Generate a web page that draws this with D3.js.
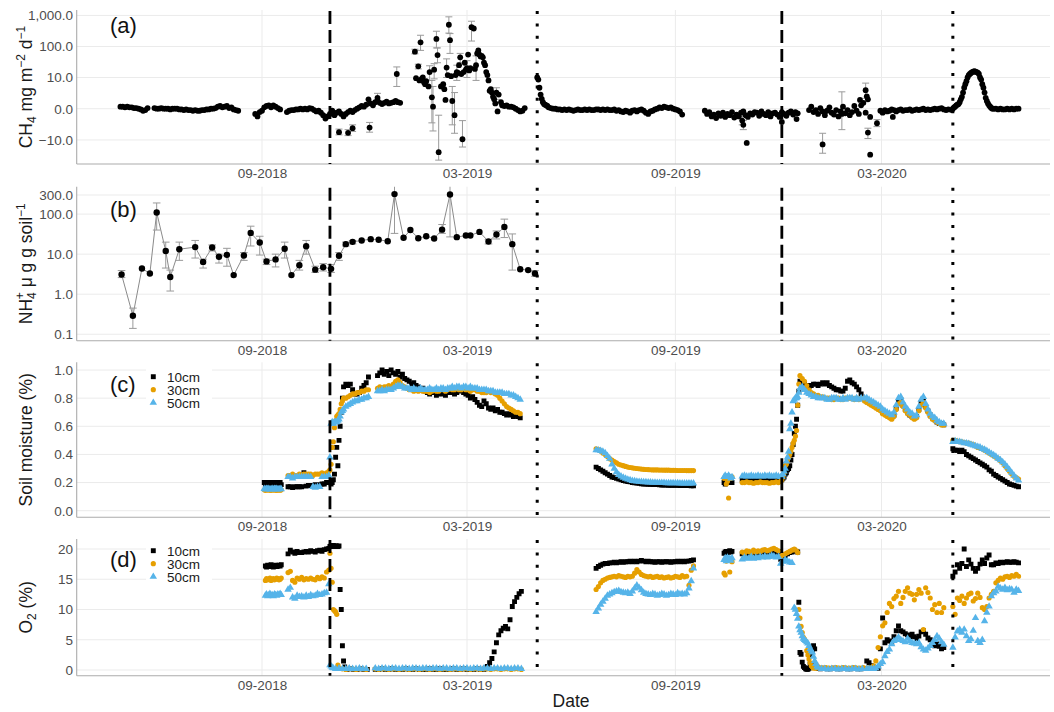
<!DOCTYPE html>
<html><head><meta charset="utf-8">
<script src="https://cdn.jsdelivr.net/npm/d3@7"></script>
<style>body{margin:0;background:#fff;}svg{display:block;}</style>
</head><body><svg id="chart" width="1054" height="712"></svg>
<script>
// ---------------- DATA ----------------
const xTickDates = ["2018-09-01","2019-03-01","2019-09-01","2020-03-01"];
const dashedDates = ["2018-10-31","2019-12-04"];
const dottedDates = ["2019-05-02","2020-05-03"];
const ch4Ticks = [-10,0,10,100,1000];
const nh4Ticks = [0.1,1,10,100,300];
const moistTicks = [0,0.2,0.4,0.6,0.8,1.0];
const o2Ticks = [0,5,10,15,20];
const depthLabels = ["10cm","30cm","50cm"];

// CH4 runs: [start, step(days), values]
const ch4Segments = [
 ["2018-04-29",2,[0.3,0.3,0.2,0.3,0.2,0.2,0.1,0.1,0,-0.1,-0.3,-0.2,0.1]],
 ["2018-05-29",2,[0.1,0,0,0.1,0,0,0,-0.1,0,0,0,-0.1,-0.1,-0.2,-0.1,-0.2,-0.2,-0.3,-0.2,-0.3,-0.3,-0.2,-0.2,-0.1,-0.1,0,0,0.1,0.3,0.4,0.2,0.3,0.4,0.1,0.2,-0.1,-0.2,-0.3]],
 ["2018-08-26",2,[-0.8,-1.2,-0.5,-0.3,0.2,0.4,0.5,0.2,0.5,0.3,0.1,-0.1]],
 ["2018-09-23",2,[-0.5,-0.3,-0.2,-0.2,-0.1,-0.1,0,-0.1,0,-0.1,0.1,0,-0.2,-0.4,-0.3,-0.6,-1.0,-1.6,-1.2,-0.8]],
 ["2018-11-02",2,[-0.3,-1.0,-0.6,-0.4,-0.8,-1.2,-0.8,-0.5,-0.3,-0.5,-0.2,0,0.2,0.4,0.3,0.6,1.5,0.8,0.5,1.0,1.3,0.9,0.7,0.9,1.1,0.8,0.9,1.0,1.2,1.0,0.9]],
 ["2019-04-01",2,[0.5,0.4,0.5,0.3,0.3,0.2,0,-0.2,-0.4,-0.3,0.1]],
 ["2019-05-02",1,[10,8.5,4.5,2.5,1.6,1.0,0.7,0.6,0.5,0.4]],
 ["2019-05-12",2,[0.2,0.1,0,0,-0.1,-0.1,-0.2,-0.1,-0.2,-0.1,-0.2,-0.3,-0.2,-0.1,-0.2,-0.2,-0.1,-0.2,-0.1,-0.2,-0.2,-0.1,-0.1,-0.2,-0.1,-0.2,-0.1,-0.2,-0.2,-0.1,-0.3,-0.2,-0.4,-0.5,-0.3,-0.4,-0.6,-0.3,-0.2,-0.4,-0.2,-0.1,-0.3,-0.6,-0.8,-0.4,-0.3,-0.1,0,0.2,0.1,0.3,0.2,0.1,0.2,0,-0.1,-0.2,-0.4,-0.9]],
 ["2019-09-27",2,[-0.3,-0.8,-0.5,-1.2,-0.9,-1.5,-0.7,-1.1,-0.6,-1.3,-0.8,-1.0,-0.5,-1.4,-0.9,-1.2,-0.6,-0.4,-1.0,-1.3,-0.7,-0.9,-0.5,-0.6,-1.1,-0.4,-0.8,-1.0,-0.5,-1.2,-0.7,-0.6,-0.9,-1.3,-0.5,-0.8,-1.1,-0.6,-0.4,-0.9,-0.5,-0.7]],
 ["2019-12-28",2,[-0.2,0.3,-0.5,-0.2,-0.8,0.1,-0.4,-1.0,-0.3,0.2,-0.6,-0.9,-0.2,-1.2,-0.4,0.3,-0.7,-0.2,-1.0,-0.5,0.4,-0.3,-0.8,0.5,0.9,-0.6,1.5,-1.3]],
 ["2020-02-29",2,[-0.3,-0.6,-0.2,-0.4,-0.3,-0.1,-0.2,-0.4,-0.2,-0.1,-0.3,-0.2,-0.2,-0.1,-0.3,-0.2,-0.1,-0.2,-0.1,0,-0.2,-0.1,-0.2,-0.1,0,-0.1,0,0.1,-0.1,-0.2,-0.1]],
 ["2020-05-02",1,[-0.2,0,0.2,0.3,0.5,0.6,0.7,1.0,1.5,2,3,4.5,6,7.5,10,12,13,14,15,15.5,16,15.5,15,14.5,13,10,8.5,6,4.5,3,1.8,1.2,0.8,0.5,0.3,0.1,0,0]],
 ["2020-06-10",2,[0,-0.1,0,-0.1,-0.1,0,-0.1,0,-0.1,0,0]]
];
// CH4 single points: [date, value, low, high]
const ch4Points = [
 ["2018-11-08",-5.5,-6.8,-4.3],["2018-11-16",-5.8,-7.2,-4.5],["2018-11-20",-4.0,-5.2,-3.0],
 ["2018-12-05",-3.8,-5.5,-2.4],["2018-12-12",1.8,1.0,2.8],["2018-12-29",13,5,22],
 ["2019-01-14",68,58,82],["2019-01-15",9.5],["2019-01-17",23,19,27],["2019-01-18",8],
 ["2019-01-19",136,75,230],["2019-01-20",9],["2019-01-21",10],["2019-01-22",7],["2019-01-23",6],
 ["2019-01-24",7.5],["2019-01-26",5],["2019-01-27",15,8,24],["2019-01-29",1.9,-2.5,8],
 ["2019-01-30",0.3,-5,5],["2019-01-31",18,9,28],["2019-02-02",175,90,310],["2019-02-03",53,30,90],
 ["2019-02-04",-25,-45,-1],["2019-02-06",5],["2019-02-08",6],["2019-02-09",4],["2019-02-10",1.4],
 ["2019-02-11",21,10,40],["2019-02-12",12],["2019-02-13",500,270,900],["2019-02-14",160,60,260],
 ["2019-02-15",11],["2019-02-16",1.2,-3,5],["2019-02-18",-1,-6,3],["2019-02-19",12],
 ["2019-02-20",15,8,25],["2019-02-21",14],["2019-02-22",25],["2019-02-23",45,30,60],["2019-02-24",13],
 ["2019-02-25",-9.5,-17,-2],["2019-02-26",15],["2019-02-27",30],["2019-02-28",18],["2019-03-01",20,10,35],
 ["2019-03-02",55],["2019-03-03",17],["2019-03-04",20],["2019-03-05",420,150,650],["2019-03-07",380],
 ["2019-03-08",19],["2019-03-09",25,8,50],["2019-03-10",60],["2019-03-11",75],["2019-03-12",55],
 ["2019-03-13",48],["2019-03-14",50],["2019-03-15",45],["2019-03-16",30],["2019-03-17",25],
 ["2019-03-18",15],["2019-03-19",12],["2019-03-20",8],["2019-03-21",3.5],["2019-03-22",4],
 ["2019-03-23",3],["2019-03-24",2],["2019-03-25",1.5],["2019-03-26",0.8],["2019-03-27",3,1.5,4.5],
 ["2019-03-28",-0.4],["2019-03-29",2.5],["2019-03-31",1],
 ["2019-10-30",-2.0,-3,-1.2],["2019-10-31",-3,-4.5,-2],["2019-11-03",-12.5],["2019-12-04",-2.3],
 ["2019-12-17",-1.7],["2020-01-09",-14,-27,-6],["2020-01-26",-0.8,-4.5,3.2],["2020-02-11",1.4],
 ["2020-02-16",3.7,1.7,6.5],["2020-02-17",2.1],["2020-02-18",-5.7,-9,-4],["2020-02-20",-30],
 ["2020-02-26",-2.6,-3.5,-1.8],["2020-03-11",-1.3]
];
// NH4+: [date, value, low, high]
const nh4 = [
 ["2018-04-30",3.1,2.6,3.9],["2018-05-10",0.29,0.14,0.45],["2018-05-18",4.4,null,null],["2018-05-25",3.3,null,null],
 ["2018-05-31",110,40,190],["2018-06-08",12,4.5,20],["2018-06-12",2.7,1.2,4],["2018-06-20",13.3,7,20],
 ["2018-07-04",15,8,22],["2018-07-11",6.4,4.5,7.5],["2018-07-19",14.7,12,17],["2018-07-25",8.6,6,10],
 ["2018-08-01",9.6,5,14],["2018-08-07",3.0,null,null],["2018-08-16",9.3,7,11],["2018-08-22",34,16,50],
 ["2018-08-30",19.5,9.5,28],["2018-09-05",6.6,5.5,7.5],["2018-09-13",7.4,4.8,10],["2018-09-21",13.6,8,20],
 ["2018-09-27",3.0,null,null],["2018-10-04",5.3,4,7],["2018-10-10",15.8,10,22],["2018-10-18",4.1,3.5,5],
 ["2018-10-25",4.7,3.8,5.8],["2018-11-01",4.3,3.5,5.5],["2018-11-08",9.1,7,11],["2018-11-14",17.8,16,20],
 ["2018-11-20",20.3,18,22],["2018-11-28",22,null,null],["2018-12-06",23.7,null,null],["2018-12-13",23,null,null],
 ["2018-12-21",21,null,null],["2018-12-27",316,33,600],["2019-01-04",25.6,null,null],["2019-01-10",40,null,null],
 ["2019-01-17",25,null,null],["2019-01-24",28,null,null],["2019-01-31",24.6,null,null],["2019-02-07",41,33,55],
 ["2019-02-14",310,27,600],["2019-02-20",26.6,null,null],["2019-02-28",29.3,null,null],["2019-03-04",29.3,null,null],
 ["2019-03-12",36,null,null],["2019-03-20",20.7,18,23],["2019-03-27",31,24,38],["2019-04-03",48,26,75],
 ["2019-04-10",17.8,4,32],["2019-04-17",4.2,null,null],["2019-04-24",4.0,null,null],["2019-04-30",3.3,2.8,3.9]
];
// Soil moisture runs: [start, step, values]
const moist10 = [
 ["2018-09-03",1,[0.2,0.185,0.2,0.183,0.2,0.185,0.2,0.183,0.2,0.185,0.2,0.183,0.2,0.185,0.2,0.185]],
 ["2018-09-24",2,[0.17,0.17,0.165,0.17,0.17,0.17,0.17,0.27,0.175,0.18,0.18,0.18,0.185,0.18,0.185,0.19,0.19,0.2,0.2]],
 ["2018-11-01",1,[0.19,0.2,0.22,0.26,0.38,0.45,0.32,0.5,0.6,0.7,0.8,0.88]],
 ["2018-11-14",2,[0.9,0.89,0.9,0.86,0.83,0.83,0.84,0.87,0.89,0.91,0.95]],
 ["2018-12-12",2,[0.96,0.98,1.0,0.97,0.99,0.96,1.0,0.98,0.97,0.99,0.95,0.97,0.94,0.93,0.92,0.9,0.91,0.89,0.88,0.86,0.87,0.85,0.84,0.83,0.85,0.84,0.82,0.83,0.84,0.83,0.82,0.84,0.85,0.84,0.83,0.84,0.85,0.86,0.84,0.83,0.82,0.8,0.81,0.79,0.77,0.75,0.74,0.78,0.76,0.73,0.72,0.73,0.71,0.72,0.7,0.7,0.69,0.68,0.69,0.68,0.67,0.68,0.67,0.66]],
 ["2019-06-23",2,[0.31,0.3,0.29,0.28,0.27,0.26,0.25,0.24,0.235,0.23,0.225,0.22,0.215,0.21,0.207,0.205,0.2,0.198,0.196,0.194,0.192,0.19,0.19,0.188,0.187,0.186,0.185,0.185,0.184,0.183,0.182,0.182,0.181,0.181,0.18,0.18,0.18,0.179,0.179,0.178,0.178,0.178,0.177,0.177]],
 ["2019-10-14",1,[0.2,0.19,0.21,0.2,0.22,0.2,0.21,0.2]],
 ["2019-10-30",2,[0.22,0.22,0.215,0.22,0.225,0.22,0.22,0.215,0.22,0.22,0.225,0.22,0.22,0.215,0.22,0.22,0.22,0.225]],
 ["2019-12-04",1,[0.22,0.23,0.24,0.26,0.27,0.29,0.3,0.32,0.36,0.4,0.47,0.55,0.6,0.65,0.75,0.85,0.92]],
 ["2019-12-22",2,[0.91,0.9,0.89,0.88,0.89,0.9,0.9,0.89,0.9,0.91,0.9,0.91,0.89,0.88,0.87,0.86,0.86,0.85,0.85,0.87,0.92,0.93,0.91,0.9,0.88,0.86,0.83]],
 ["2020-02-15",2,[0.79,0.78,0.77,0.77,0.75,0.74,0.73,0.72,0.7,0.69,0.68,0.67,0.66,0.68,0.73,0.78,0.79,0.75,0.72,0.7,0.68,0.67,0.66,0.67,0.72,0.77,0.79,0.74,0.71,0.68,0.66,0.65,0.63,0.62,0.62,0.61]],
 ["2020-05-03",2,[0.44,0.43,0.43,0.42,0.43,0.42,0.4,0.39,0.38,0.37,0.36,0.35,0.34,0.33,0.32,0.31,0.29,0.28,0.26,0.25,0.24,0.23,0.22,0.21,0.2,0.19,0.185,0.18,0.175,0.17]]
];
const moist30 = [
 ["2018-09-03",1,[0.148,0.145,0.148,0.15,0.146,0.148,0.145,0.148,0.15,0.146,0.148,0.145,0.148,0.147,0.146,0.148]],
 ["2018-09-24",2,[0.25,0.25,0.26,0.25,0.25,0.26,0.25,0.26,0.26,0.26,0.26,0.25,0.26,0.26,0.26,0.27,0.26,0.27,0.28]],
 ["2018-10-31",1,[0.29,0.33,0.45,0.49,0.59,0.64,0.67,0.68,0.69,0.72,0.76,0.78,0.8]],
 ["2018-11-14",2,[0.8,0.81,0.82,0.83,0.83,0.84,0.84,0.85,0.85,0.86,0.86]],
 ["2018-12-12",2,[0.87,0.88,0.87,0.88,0.88,0.89,0.88,0.9,0.92,0.93,0.91,0.89,0.88,0.87,0.86,0.86,0.85,0.86,0.85,0.86,0.85,0.85,0.85,0.84,0.85,0.86,0.85,0.85,0.86,0.86,0.85,0.86,0.87,0.86,0.86,0.87,0.86,0.86,0.87,0.86,0.86,0.85,0.86,0.86,0.85,0.85,0.84,0.84,0.84,0.85,0.84,0.84,0.83,0.82,0.8,0.78,0.76,0.74,0.73,0.72,0.71,0.7,0.7,0.69]],
 ["2019-06-23",2,[0.44,0.435,0.425,0.41,0.4,0.385,0.37,0.36,0.35,0.34,0.33,0.325,0.32,0.315,0.31,0.307,0.305,0.302,0.3,0.298,0.296,0.294,0.293,0.292,0.291,0.29,0.29,0.29,0.289,0.289,0.288,0.288,0.288,0.287,0.287,0.287,0.286,0.286,0.286,0.286,0.285,0.285,0.285,0.285]],
 ["2019-10-14",1,[0.23,0.24,0.19,0.21,0.09,0.24,0.23,0.24]],
 ["2019-10-30",2,[0.2,0.2,0.205,0.2,0.2,0.195,0.2,0.2,0.205,0.2,0.2,0.2,0.195,0.2,0.2,0.205,0.2,0.21]],
 ["2019-12-04",1,[0.22,0.24,0.27,0.32,0.33,0.36,0.38,0.4,0.42,0.45,0.48,0.5,0.53,0.57,0.75,0.9,0.96]],
 ["2019-12-22",2,[0.94,0.92,0.89,0.86,0.84,0.83,0.82,0.82,0.81,0.81,0.8,0.8,0.8,0.79,0.79,0.8,0.8,0.79,0.79,0.8,0.8,0.8,0.8,0.79,0.8,0.79,0.8]],
 ["2020-02-15",2,[0.78,0.77,0.76,0.75,0.74,0.73,0.72,0.71,0.69,0.68,0.67,0.66,0.65,0.67,0.72,0.76,0.77,0.74,0.71,0.69,0.68,0.66,0.65,0.66,0.71,0.75,0.77,0.73,0.7,0.67,0.65,0.64,0.63,0.62,0.61,0.61]],
 ["2020-05-03",2,[0.5,0.5,0.495,0.49,0.49,0.485,0.48,0.48,0.475,0.47,0.46,0.45,0.445,0.44,0.43,0.42,0.41,0.4,0.39,0.38,0.37,0.355,0.34,0.32,0.3,0.28,0.26,0.245,0.235,0.225]]
];
const moist50 = [
 ["2018-09-03",1,[0.155,0.152,0.155,0.153,0.155,0.152,0.154,0.155,0.152,0.155,0.153,0.155,0.152,0.154,0.155,0.153]],
 ["2018-09-24",2,[0.24,0.24,0.23,0.24,0.24,0.24,0.24,0.24,0.24,0.24,0.24,0.17,0.165,0.17,0.17,0.24,0.24,0.24,0.25]],
 ["2018-10-31",1,[0.38,0.62,0.63,0.62,0.63,0.63,0.63,0.64,0.65,0.67,0.7,0.71,0.72]],
 ["2018-11-14",2,[0.74,0.75,0.76,0.77,0.78,0.78,0.79,0.79,0.8,0.8,0.81]],
 ["2018-12-12",2,[0.85,0.85,0.86,0.85,0.86,0.86,0.86,0.87,0.88,0.89,0.89,0.88,0.87,0.87,0.87,0.86,0.87,0.86,0.86,0.87,0.86,0.86,0.86,0.87,0.86,0.86,0.87,0.86,0.87,0.87,0.86,0.87,0.87,0.88,0.87,0.88,0.88,0.87,0.88,0.88,0.87,0.88,0.87,0.87,0.87,0.86,0.86,0.86,0.86,0.85,0.85,0.85,0.84,0.84,0.84,0.84,0.83,0.83,0.83,0.82,0.82,0.81,0.8,0.79]],
 ["2019-06-23",2,[0.43,0.43,0.425,0.42,0.41,0.39,0.37,0.33,0.3,0.275,0.255,0.245,0.235,0.228,0.222,0.217,0.213,0.21,0.208,0.206,0.205,0.204,0.203,0.202,0.201,0.2,0.2,0.199,0.199,0.198,0.198,0.197,0.197,0.197,0.196,0.196,0.196,0.195,0.195,0.195,0.195,0.194,0.194,0.194]],
 ["2019-10-14",1,[0.24,0.25,0.24,0.24,0.25,0.24,0.23,0.24]],
 ["2019-10-30",2,[0.245,0.25,0.245,0.245,0.25,0.245,0.245,0.25,0.245,0.245,0.25,0.245,0.25,0.245,0.245,0.25,0.245,0.24]],
 ["2019-12-04",1,[0.24,0.26,0.28,0.3,0.35,0.38,0.42,0.58,0.62,0.7,0.78,0.79,0.8,0.8,0.81,0.84,0.87]],
 ["2019-12-22",2,[0.88,0.86,0.84,0.83,0.82,0.81,0.81,0.8,0.8,0.8,0.8,0.79,0.79,0.8,0.8,0.8,0.79,0.79,0.8,0.79,0.8,0.8,0.8,0.79,0.8,0.79,0.8]],
 ["2020-02-15",2,[0.8,0.8,0.79,0.78,0.77,0.76,0.75,0.74,0.72,0.71,0.7,0.69,0.68,0.7,0.75,0.8,0.81,0.77,0.74,0.72,0.7,0.69,0.67,0.68,0.74,0.79,0.81,0.76,0.72,0.69,0.67,0.66,0.64,0.63,0.62,0.62]],
 ["2020-05-03",2,[0.49,0.495,0.49,0.49,0.485,0.48,0.48,0.475,0.47,0.465,0.46,0.455,0.45,0.44,0.435,0.425,0.415,0.405,0.395,0.385,0.37,0.36,0.345,0.33,0.31,0.29,0.27,0.25,0.23,0.215]]
];
// O2 runs: [start, step, values]
const o2_10 = [
 ["2018-09-04",1,[17.2,17.0,17.3,17.1,17.2,17.4,17.1,17.0,17.2,17.3,17.1,17.2,17.3,17.2,17.4]],
 ["2018-09-24",2,[19.2,19.8,19.5,19.3,19.6,19.4,19.4,19.5,19.6,19.5,19.7,19.6,19.5,19.7,19.8,19.6,19.9,20.0,20.1]],
 ["2018-10-31",1,[20.4,20.5,20.5,20.6,20.4,20.5,20.5,20.4,20.5,13.3,10.0,4.0,1.5,0.5]],
 ["2018-11-15",3,[0.1,0.2,0.1,0.1,0.2,0.1,0.1]],
 ["2018-12-10",3,[0.1,0.1,0.2,0.1,0.1,0.2,0.1,0.1,0.1,0.2,0.1,0.1,0.2,0.1,0.1,0.1,0.2,0.1,0.1,0.2,0.1,0.1,0.1,0.2,0.1,0.1,0.2,0.1,0.1,0.1,0.2,0.1,0.1]],
 ["2019-03-17",2,[0.3,0.6,1.2,1.9,3.0,4.5,5.8,6.5,6.9,7.2,6.8,8.3,10.5,11.3,12.0,12.6,13.0]],
 ["2019-06-23",2,[16.8,17.1,17.3,17.5,17.6,17.6,17.7,17.7,17.8,17.7,17.8,17.9,17.8,17.9,17.9,18.0,17.9,18.0,17.9,18.0,18.1,18.0,17.9,18.0,17.9,17.9,17.8,17.9,17.9,17.8,17.9,17.9,17.9,17.8,17.9,17.9,18.0,17.9,18.0,17.9,18.0,18.0,18.1,18.2]],
 ["2019-10-14",1,[19.3,19.5,19.6,19.4,19.5,19.7,19.5,19.6]],
 ["2019-10-30",2,[19.2,19.0,19.4,19.1,19.3,19.0,19.2,19.4,19.1,19.3,19.5,19.2,19.4,19.3,19.6,19.4,19.6,18.3,18.5,18.9,19.2,19.4,19.5,19.8]],
 ["2019-12-17",1,[19.6,19.5,11.2,2.9,2.6,1.3,0.6,0.4,0.2,0.1,0.1,0.3,1.0,2.5,3.2,4.0,3.5,0.8,0.5,0.3]],
 ["2020-01-07",3,[0.2,0.3,0.2,0.2,0.3,0.2,0.2,0.3,0.2,0.2,0.3,0.2,0.2]],
 ["2020-02-17",2,[1.5,1.2,0.7,0.5,0.4,0.3,3.5,8.6,4.5,5.0,4.8,4.5,5.5,6.5,7.3,6.5,6.3,6.0,5.8,5.5,5.9,5.5,5.2,5.6,6.3,6.5,5.9,5.3,5.0,4.5,4.0,4.3,3.9,3.5,3.7]],
 ["2020-05-03",2,[15.5,16.2,17.4,16.8,17.6,20.0,17.1,18.2,17.5,16.8,16.3,16.8,17.5,18.2,17.6,18.5,19.0,17.4,17.4,17.7,17.6,17.8,17.7,17.8,17.9,17.8,17.8,17.9,17.8,17.7]]
];
const o2_30 = [
 ["2018-09-04",1,[14.8,15.1,14.9,15.0,15.2,14.8,15.0,15.1,14.9,15.0,15.2,15.1,14.9,15.0,15.2]],
 ["2018-09-24",2,[16.1,16.3,14.8,14.5,15.2,15.0,15.3,14.9,15.1,15.0,15.2,15.0,14.9,15.3,15.1,15.4,15.2,16.2,16.5]],
 ["2018-10-31",1,[19.3,16.8,14.5,10.0,9.8,9.6,9.2,0.8,0.3]],
 ["2018-11-11",3,[0.2,0.1,0.2,0.2,0.1,0.2,0.2,0.1]],
 ["2018-12-10",3,[0.2,0.1,0.2,0.2,0.1,0.2,0.2,0.1,0.2,0.2,0.1,0.2,0.2,0.1,0.2,0.2,0.1,0.2,0.2,0.1,0.2,0.2,0.1,0.2,0.2,0.1,0.2,0.2,0.1,0.2,0.2,0.1,0.2,0.2,0.1,0.2,0.2,0.1,0.2,0.2,0.1,0.2,0.2,0.1]],
 ["2019-06-23",2,[13.3,13.8,14.4,14.8,15.0,15.2,15.3,15.4,15.5,15.4,15.6,15.5,15.4,15.3,15.5,15.4,15.5,16.0,16.6,16.2,15.8,15.6,15.5,15.4,15.5,15.3,15.4,15.5,15.3,15.4,15.2,15.3,15.4,15.2,15.3,15.5,15.4,15.3,15.6,15.4,15.5,14.0,16.5,17.2]],
 ["2019-10-14",1,[16.0,15.7,18.0,18.3,18.2,16.2,18.1,17.9]],
 ["2019-10-30",2,[19.5,19.3,19.7,19.6,19.4,19.8,19.5,19.7,19.6,19.8,19.9,19.7,19.8,20.0,20.1,19.9,19.7,18.8,19.0,19.2,19.4,19.6,19.8,20.0]],
 ["2019-12-17",1,[19.7,19.4,10.0,8.6,7.2,6.2,5.4,5.1,4.8,3.2,2.5,1.8,1.2,0.7,0.5,0.3]],
 ["2020-01-03",3,[0.3,0.4,0.3,0.4,0.3,0.3,0.4,0.3,0.4,0.3,0.3,0.4,0.3,0.3,0.4]],
 ["2020-02-17",2,[0.3,0.3,0.4,0.7,1.5,3.7,5.5,7.3,7.8,9.5,11,10.5,11.8,12.2,13,11,12,13,13.6,12.7,12.5,11.6,12.5,13.3,12.7,6.7,13.6,12.8,11.9,10,10.8,9.5,11,9.5,10.3]],
 ["2020-05-03",2,[10.5,9.2,11.9,11.5,12.2,11.0,11.9,12.5,12.7,11.4,11.8,12.7,12.0,10.3,10.0,10.5,11.9,12.5,13.0,14.4,14.8,15.2,15.0,15.4,15.5,15.3,15.6,15.5,15.8,15.5]]
];
const o2_50 = [
 ["2018-09-04",1,[12.3,12.5,12.2,12.4,12.6,12.3,12.4,12.2,12.5,12.4,12.3,12.5,12.4,12.6,12.4]],
 ["2018-09-24",2,[13.3,13.6,12.0,11.8,12.3,12.1,12.2,12.0,12.3,12.1,12.4,12.2,12.3,12.6,12.4,12.5,12.7,12.8,14.2]],
 ["2018-10-31",1,[0.8,0.6,0.4,0.3]],
 ["2018-11-05",3,[0.2,0.3,0.2,0.2,0.3,0.2,0.2,0.3,0.2,0.2]],
 ["2018-12-10",3,[0.3,0.2,0.3,0.3,0.2,0.3,0.3,0.2,0.3,0.3,0.2,0.3,0.3,0.2,0.3,0.3,0.2,0.3,0.3,0.2,0.3,0.3,0.2,0.3,0.3,0.2,0.3,0.3,0.2,0.3,0.3,0.2,0.3,0.3,0.2,0.3,0.3,0.2,0.3,0.3,0.2,0.3,0.3,0.2]],
 ["2019-06-23",2,[9.6,10.2,10.8,11.3,11.8,12.3,12.5,12.7,12.9,13.0,13.1,12.9,12.8,12.7,12.8,12.6,13.0,13.5,14.0,13.6,13.2,12.8,12.6,12.5,12.4,12.6,12.5,12.3,12.4,12.6,12.5,12.3,12.4,12.6,12.5,12.4,12.7,12.5,12.6,12.5,12.7,13.5,14.7,16.8]],
 ["2019-10-14",1,[18.2,18.5,18.0,18.6,18.3,18.4,18.1,18.5]],
 ["2019-10-30",2,[18.3,18.6,18.4,18.5,18.7,18.4,18.6,18.5,18.7,18.6,18.8,18.6,18.7,18.9,18.8,18.6,18.7,17.6,17.9,18.2,18.0,17.8,17.7]],
 ["2019-12-15",1,[10.3,10.0,9.3,8.5,7.2,6.6,6.2,5.6,5.2,5.0,4.8,4.6,4.4,4.0,3.5,3.2,2.9,2.2,1.5,1.0,0.6,0.4]],
 ["2020-01-08",3,[0.2,0.2,0.1,0.2,0.2,0.1,0.2,0.2,0.1,0.2,0.2,0.1,0.2]],
 ["2020-02-17",2,[0.2,0.2,0.2,0.2,0.3,0.6,1.0,1.3,2.3,3.0,3.4,4.3,4.8,5.0,5.4,5.0,4.8,4.6,5.2,4.8,4.5,4.4,4.3,4.5,3.8,3.4,3.2,3.6,4.0,4.5,5.0,5.6,5.2,4.6,4.2]],
 ["2020-05-03",2,[3.7,5.4,6.4,6.7,6.2,6.7,5.6,4.8,5.1,6.5,8.6,4.8,4.5,5.0,8.1,9.5,10.5,12.2,12.7,13.0,13.8,13.5,13.3,13.6,13.2,13.4,13.3,12.8,13.3,13.1]]
];

// ---------------- DRAWING ----------------
const FONT = "'Liberation Sans', Arial, Helvetica, sans-serif";
const COLORS = ["#000000","#E69F00","#56B4E9"];
const P = d3.utcParse("%Y-%m-%d");
function expand(segs){
  const out=[];
  for (const [s,step,vals] of segs){
    const t0=P(s);
    vals.forEach((v,i)=>{ if(v!==null) out.push({date:d3.utcDay.offset(t0,i*step), value:v}); });
  }
  return out;
}
const W=1054, H=712, X0=76.7, X1=1050;
const svg = d3.select("#chart").attr("font-family",FONT);
svg.append("rect").attr("width",W).attr("height",H).attr("fill","#fff");

const xA = d3.scaleUtc().domain([P("2018-09-01"),P("2020-03-01")]).range([262,881.5]);
const x = d3.scaleUtc().domain([xA.invert(X0), xA.invert(X1)]).range([X0,X1]);
const xTicks = xTickDates.map(P);

const pl = v => Math.asinh(v/2)/Math.LN10;
const yA = d3.scaleLinear().domain([-1.778,3.174]).range([164,10]);
const ya = v => yA(pl(v));
const yB = d3.scaleLog().domain([0.069,484]).range([340.7,186.7]);
const yC = d3.scaleLinear().domain([-0.047,1.055]).range([517.3,362.3]);
const yD = d3.scaleLinear().domain([-0.94,21.65]).range([675.7,539]);

const f1 = d3.format(",.1f");
const panels = [
 {key:"a", top:10, bottom:164, scale:yA, ticks:ch4Ticks.map(pl), fmt:(d,i)=>f1(ch4Ticks[i]), label:"(a)", ly:33.3},
 {key:"b", top:186.7, bottom:340.7, scale:yB, ticks:nh4Ticks, fmt:d=>f1(d), label:"(b)", ly:217.3},
 {key:"c", top:362.3, bottom:517.3, scale:yC, ticks:moistTicks, fmt:d=>d3.format(".1f")(d), label:"(c)", ly:391.7},
 {key:"d", top:539, bottom:675.7, scale:yD, ticks:o2Ticks, fmt:d=>d3.format("d")(d), label:"(d)", ly:567.3}
];
const defs = svg.append("defs");
const layers = {};
panels.forEach(p=>{
  defs.append("clipPath").attr("id","clip-"+p.key).append("rect")
    .attr("x",X0).attr("y",p.top).attr("width",X1-X0).attr("height",p.bottom-p.top);
  const g = svg.append("g");
  g.selectAll("line.hg").data(p.ticks).join("line").attr("class","hg")
    .attr("x1",X0).attr("x2",X1).attr("y1",d=>p.scale(d)).attr("y2",d=>p.scale(d))
    .attr("stroke","#EBEBEB").attr("stroke-width",1);
  g.selectAll("line.vg").data(xTicks).join("line").attr("class","vg")
    .attr("x1",d=>x(d)).attr("x2",d=>x(d)).attr("y1",p.top).attr("y2",p.bottom)
    .attr("stroke","#EBEBEB").attr("stroke-width",1);
  g.append("line").attr("x1",X0).attr("x2",X0).attr("y1",p.top).attr("y2",p.bottom).attr("stroke","#ABABAB").attr("stroke-width",1.1);
  g.append("line").attr("x1",X0).attr("x2",X1).attr("y1",p.bottom).attr("y2",p.bottom).attr("stroke","#ABABAB").attr("stroke-width",1.1);
  const ay = g.append("g").attr("transform",`translate(${X0},0)`)
    .call(d3.axisLeft(p.scale).tickValues(p.ticks).tickFormat(p.fmt).tickSize(0).tickPadding(3.7));
  ay.select(".domain").remove();
  ay.attr("font-size",13.5).attr("font-family",FONT);
  ay.selectAll("text").attr("fill","#4D4D4D");
  const ax = g.append("g").attr("transform",`translate(0,${p.bottom})`)
    .call(d3.axisBottom(x).tickValues(xTicks).tickFormat(d3.utcFormat("%m-%Y")).tickSize(0).tickPadding(4.4));
  ax.select(".domain").remove();
  ax.attr("font-size",13.5).attr("font-family",FONT);
  ax.selectAll("text").attr("fill","#4D4D4D");
  layers[p.key] = svg.append("g").attr("clip-path",`url(#clip-${p.key})`);
  p.g = g;
});

// Panel (a)
(function(){
  const L = layers.a;
  const pts = ch4Points.map(r=>({date:P(r[0]), value:r[1], lo:r[2], hi:r[3]}));
  const eb = pts.filter(d=>d.lo!==undefined);
  const eg = L.append("g").attr("stroke","#9A9A9A").attr("stroke-width",1).attr("fill","none");
  eb.forEach(d=>{
    const cx=x(d.date);
    eg.append("line").attr("x1",cx).attr("x2",cx).attr("y1",ya(d.lo)).attr("y2",ya(d.hi));
    eg.append("line").attr("x1",cx-3.5).attr("x2",cx+3.5).attr("y1",ya(d.lo)).attr("y2",ya(d.lo));
    eg.append("line").attr("x1",cx-3.5).attr("x2",cx+3.5).attr("y1",ya(d.hi)).attr("y2",ya(d.hi));
  });
  const all = expand(ch4Segments).concat(pts);
  L.append("g").selectAll("circle").data(all).join("circle")
    .attr("cx",d=>x(d.date)).attr("cy",d=>ya(d.value)).attr("r",2.9).attr("fill","#000");
})();

// Panel (b)
(function(){
  const L = layers.b;
  const pts = nh4.map(r=>({date:P(r[0]), value:r[1], lo:r[2], hi:r[3]}));
  L.append("path").datum(pts).attr("fill","none").attr("stroke","#8A8A8A").attr("stroke-width",1)
    .attr("d", d3.line().x(d=>x(d.date)).y(d=>yB(d.value)));
  const eg = L.append("g").attr("stroke","#9A9A9A").attr("stroke-width",1);
  pts.filter(d=>d.lo!==null).forEach(d=>{
    const cx=x(d.date);
    eg.append("line").attr("x1",cx).attr("x2",cx).attr("y1",yB(d.lo)).attr("y2",yB(d.hi));
    eg.append("line").attr("x1",cx-3.8).attr("x2",cx+3.8).attr("y1",yB(d.lo)).attr("y2",yB(d.lo));
    eg.append("line").attr("x1",cx-3.8).attr("x2",cx+3.8).attr("y1",yB(d.hi)).attr("y2",yB(d.hi));
  });
  L.append("g").selectAll("circle").data(pts).join("circle")
    .attr("cx",d=>x(d.date)).attr("cy",d=>yB(d.value)).attr("r",3.2).attr("fill","#000");
})();

// Panels (c), (d)
const SYM = [d3.symbol().type(d3.symbolSquare).size(24), d3.symbol().type(d3.symbolCircle).size(21), d3.symbol().type(d3.symbolTriangle).size(24)];
function depthPanel(L, yS, series){
  series.forEach((segs,k)=>{
    L.append("g").selectAll("path").data(expand(segs)).join("path")
      .attr("d",SYM[k]()).attr("fill",COLORS[k])
      .attr("transform",d=>`translate(${x(d.date)},${yS(d.value)})`);
  });
}
depthPanel(layers.c, yC, [moist10, moist30, moist50]);
depthPanel(layers.d, yD, [o2_10, o2_30, o2_50]);

// legends
function legend(top){
  const g = svg.append("g");
  g.append("rect").attr("x",146).attr("y",top-8).attr("width",66).attr("height",42).attr("fill","#fff");
  depthLabels.forEach((lab,k)=>{
    const cy = top + k*13;
    g.append("path").attr("d",SYM[k]()).attr("fill",COLORS[k]).attr("transform",`translate(153.3,${cy})`);
    g.append("text").attr("x",167).attr("y",cy+4.8).attr("font-size",13.5).attr("fill","#1a1a1a").text(lab);
  });
}
legend(376.7);
legend(550.7);

// vertical reference lines
panels.forEach(p=>{
  dashedDates.forEach(s=>{
    svg.append("line").attr("x1",x(P(s))).attr("x2",x(P(s))).attr("y1",p.top+1).attr("y2",p.bottom)
      .attr("stroke","#000").attr("stroke-width",2.8).attr("stroke-dasharray","13,6");
  });
  dottedDates.forEach(s=>{
    svg.append("line").attr("x1",x(P(s))).attr("x2",x(P(s))).attr("y1",p.top+1).attr("y2",p.bottom)
      .attr("stroke","#000").attr("stroke-width",3).attr("stroke-dasharray","3,9.4");
  });
  svg.append("text").attr("x",110).attr("y",p.ly).attr("font-size",22).attr("fill","#111").text(p.label);
});

// y titles
function yTitle(cy, parts){
  const t = svg.append("text").attr("transform",`translate(31.5,${cy}) rotate(-90)`)
    .attr("text-anchor","middle").attr("font-size",17.5).attr("fill","#1a1a1a");
  parts.forEach(q=>{
    const s=t.append("tspan").text(q.t);
    if(q.fs) s.attr("font-size",q.fs);
    if(q.dy) s.attr("dy",q.dy);
    if(q.dx) s.attr("dx",q.dx);
  });
}
yTitle(87,[{t:"CH"},{t:"4",fs:12,dy:4},{t:" mg m",dy:-4},{t:"\u22122",fs:12,dy:-7},{t:" d",dy:7},{t:"\u22121",fs:12,dy:-7}]);
yTitle(263.7,[{t:"NH"},{t:"4",fs:12,dy:4},{t:"+",fs:12,dx:-7,dy:-12},{t:" \u03bc g g soil",dy:8},{t:"\u22121",fs:12,dy:-7}]);
yTitle(439.8,[{t:"Soil moisture (%)"}]);
yTitle(607.4,[{t:"O"},{t:"2",fs:12,dy:4},{t:" (%)",dy:-4}]);

svg.append("text").attr("x",571).attr("y",707).attr("text-anchor","middle").attr("font-size",17.5).attr("fill","#1a1a1a").text("Date");
</script></body></html>
